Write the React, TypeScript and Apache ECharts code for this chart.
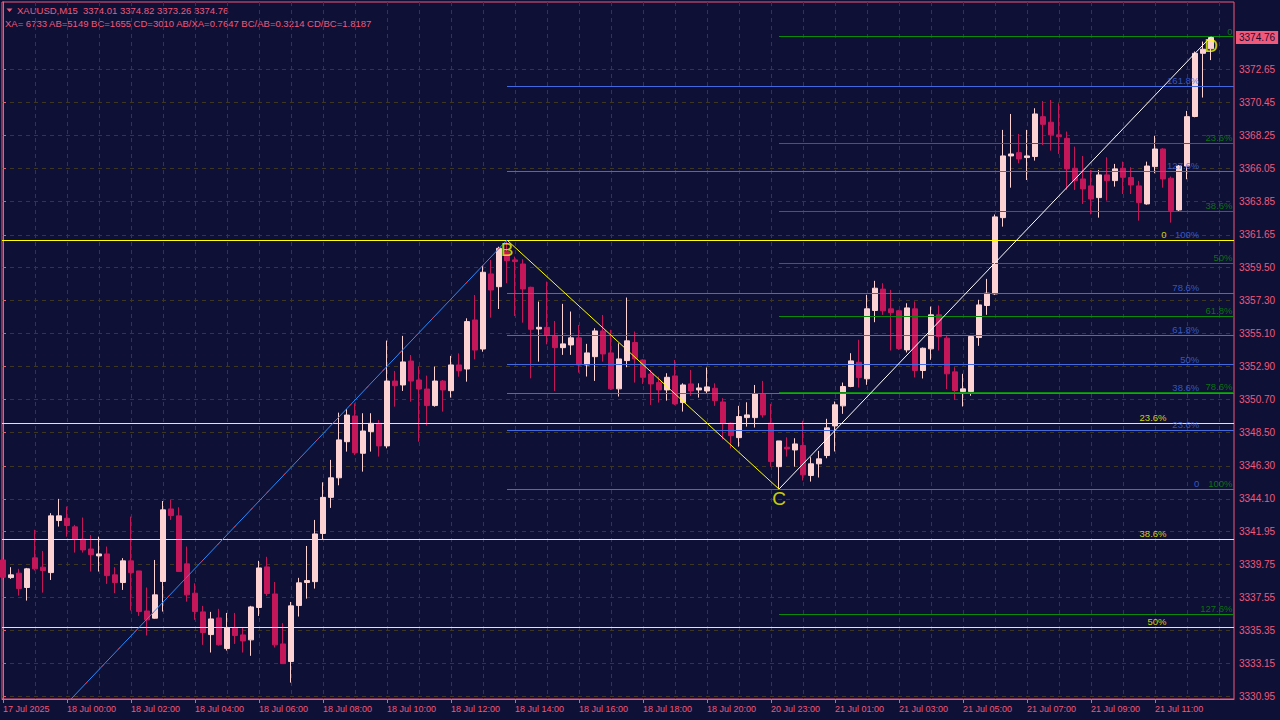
import React, { useEffect, useRef } from 'react';
import * as echarts from 'echarts';

// ---------- data ----------
const symbolName = 'XAUUSD,M15';
const statsText = 'XA= 6733 AB=5149 BC=1655 CD=3010 AB/XA=0.7647 BC/AB=0.3214 CD/BC=1.8187';

const timeLabels = [
  '17 Jul 2025', '18 Jul 00:00', '18 Jul 02:00', '18 Jul 04:00', '18 Jul 06:00',
  '18 Jul 08:00', '18 Jul 10:00', '18 Jul 12:00', '18 Jul 14:00', '18 Jul 16:00',
  '18 Jul 18:00', '18 Jul 20:00', '20 Jul 23:00', '21 Jul 01:00', '21 Jul 03:00',
  '21 Jul 05:00', '21 Jul 07:00', '21 Jul 09:00', '21 Jul 11:00',
];

const yTickValues = [
  3330.95, 3333.15, 3335.35, 3337.55, 3339.75, 3341.95, 3344.10, 3346.30, 3348.50, 3350.70,
  3352.90, 3355.10, 3357.30, 3359.50, 3361.65, 3363.85, 3366.05, 3368.25, 3370.45, 3372.65,
];

const opens = [
  3340.04, 3338.87, 3339.16, 3338.21, 3340.18, 3339.56, 3339.20, 3342.66, 3342.81, 3342.24,
  3341.42, 3340.77, 3340.31, 3340.44, 3339.05, 3338.54, 3339.98, 3339.31, 3336.65, 3336.17,
  3338.61, 3343.43, 3342.97, 3339.78, 3337.83, 3336.59, 3335.08, 3336.19, 3334.15, 3335.55,
  3335.06, 3334.73, 3336.88, 3339.58, 3337.78, 3334.46, 3333.29, 3337.01, 3338.54, 3338.60,
  3341.80, 3344.20, 3345.50, 3347.90, 3349.61, 3347.13, 3348.57, 3349.12, 3347.62, 3351.93,
  3351.67, 3353.26, 3352.00, 3351.40, 3350.30, 3351.93, 3351.29, 3353.00, 3352.73, 3355.99,
  3354.06, 3359.05, 3358.20, 3360.53, 3359.98, 3359.71, 3358.16, 3355.39, 3355.50, 3354.93,
  3354.15, 3354.33, 3354.80, 3353.00, 3353.55, 3355.26, 3353.80, 3351.41, 3353.29, 3354.49,
  3353.33, 3352.40, 3351.83, 3351.34, 3352.27, 3350.50, 3351.74, 3351.34, 3351.27, 3351.45,
  3350.54, 3349.13, 3348.17, 3349.50, 3349.50, 3351.07, 3349.13, 3346.24, 3347.53, 3347.35,
  3347.65, 3345.65, 3346.43, 3346.98, 3348.95, 3350.28, 3351.57, 3353.18, 3352.08, 3356.62,
  3358.04, 3356.73, 3356.60, 3354.00, 3356.73, 3352.63, 3354.07, 3356.33, 3354.78, 3352.54,
  3351.23, 3351.23, 3354.82, 3356.95, 3357.72, 3362.79, 3366.89, 3367.11, 3366.78, 3366.85,
  3369.50, 3369.13, 3368.29, 3368.06, 3366.07, 3365.36, 3364.90, 3364.12, 3365.63, 3365.25,
  3366.07, 3365.45, 3364.90, 3363.70, 3366.18, 3367.35, 3365.41, 3363.30, 3366.22, 3369.51,
  3373.71, 3374.01,
];
const closes = [
  3338.89, 3339.05, 3338.14, 3339.45, 3339.45, 3339.34, 3342.97, 3342.97, 3342.33, 3341.42,
  3340.71, 3340.39, 3340.44, 3339.00, 3338.54, 3339.98, 3339.20, 3336.61, 3336.06, 3337.72,
  3343.37, 3342.99, 3339.27, 3337.72, 3336.61, 3335.22, 3336.12, 3334.40, 3335.55, 3335.02,
  3334.66, 3336.92, 3339.51, 3337.81, 3334.40, 3333.15, 3336.99, 3338.52, 3338.67, 3341.77,
  3344.20, 3345.50, 3348.02, 3349.67, 3347.17, 3348.61, 3349.12, 3347.62, 3351.93, 3351.62,
  3353.20, 3351.93, 3351.40, 3350.30, 3351.93, 3351.34, 3353.00, 3352.62, 3355.88, 3353.99,
  3359.16, 3357.98, 3360.75, 3359.93, 3359.87, 3358.05, 3355.37, 3355.50, 3354.99, 3354.15,
  3354.40, 3354.80, 3353.00, 3353.80, 3355.26, 3353.73, 3351.41, 3353.40, 3354.60, 3353.40,
  3352.18, 3351.74, 3351.34, 3352.18, 3350.41, 3351.67, 3351.27, 3351.47, 3351.54, 3350.63,
  3349.13, 3348.30, 3349.57, 3349.68, 3351.07, 3349.68, 3346.58, 3347.95, 3347.42, 3347.75,
  3345.70, 3346.43, 3346.76, 3348.82, 3350.35, 3351.57, 3353.27, 3352.16, 3356.73, 3358.10,
  3356.60, 3356.48, 3354.09, 3356.79, 3352.63, 3354.11, 3356.33, 3354.89, 3352.41, 3351.30,
  3351.41, 3354.89, 3356.99, 3357.77, 3362.84, 3366.89, 3367.02, 3366.69, 3366.89, 3369.68,
  3368.99, 3368.29, 3368.17, 3366.03, 3365.25, 3364.70, 3364.03, 3365.63, 3365.25, 3366.03,
  3365.47, 3364.96, 3363.79, 3366.22, 3367.35, 3365.36, 3363.26, 3366.22, 3369.50, 3373.71,
  3373.98, 3374.76,
];
const lows = [
  3338.71, 3338.78, 3337.67, 3337.34, 3339.34, 3337.87, 3338.71, 3342.26, 3341.59, 3340.53,
  3340.53, 3339.27, 3339.27, 3338.45, 3337.83, 3338.05, 3336.68, 3336.32, 3335.02, 3336.14,
  3336.61, 3342.70, 3339.27, 3337.27, 3336.06, 3334.40, 3333.89, 3334.35, 3334.02, 3334.46,
  3333.89, 3333.67, 3336.32, 3337.65, 3334.22, 3333.15, 3331.89, 3336.28, 3337.47, 3338.14,
  3341.40, 3343.50, 3345.00, 3347.24, 3347.02, 3345.91, 3347.24, 3346.91, 3347.46, 3350.23,
  3351.27, 3350.56, 3347.90, 3348.97, 3350.23, 3349.90, 3350.83, 3352.22, 3351.89, 3353.37,
  3353.88, 3356.14, 3356.72, 3358.43, 3356.25, 3355.81, 3352.11, 3353.22, 3354.37, 3351.27,
  3353.67, 3353.67, 3352.49, 3352.23, 3351.94, 3353.22, 3351.34, 3350.90, 3352.85, 3351.83,
  3351.74, 3350.34, 3350.50, 3350.63, 3350.34, 3349.90, 3350.94, 3350.83, 3351.12, 3350.28,
  3348.06, 3347.46, 3347.57, 3348.90, 3348.84, 3349.50, 3346.24, 3344.75, 3346.91, 3346.24,
  3345.32, 3345.25, 3345.52, 3346.80, 3347.25, 3349.75, 3351.52, 3351.50, 3351.68, 3355.84,
  3356.33, 3353.96, 3354.00, 3353.83, 3352.17, 3352.10, 3353.34, 3353.96, 3351.39, 3350.68,
  3350.24, 3350.95, 3354.27, 3356.33, 3357.66, 3362.19, 3364.78, 3366.40, 3365.29, 3366.58,
  3367.62, 3367.24, 3367.02, 3364.63, 3364.63, 3363.70, 3363.01, 3362.79, 3363.92, 3364.85,
  3364.36, 3364.36, 3362.59, 3363.65, 3365.74, 3364.78, 3362.46, 3363.23, 3365.34, 3369.46,
  3370.77, 3373.26,
];
const highs = [
  3340.22, 3339.56, 3339.45, 3339.51, 3342.04, 3340.64, 3343.15, 3344.10, 3343.59, 3342.37,
  3342.86, 3341.70, 3341.59, 3340.93, 3339.56, 3340.16, 3342.92, 3339.31, 3338.21, 3340.04,
  3343.96, 3344.03, 3343.54, 3340.93, 3338.49, 3336.99, 3336.59, 3336.79, 3336.52, 3336.52,
  3335.55, 3336.99, 3339.98, 3340.25, 3338.58, 3335.84, 3337.25, 3338.85, 3340.97, 3342.70,
  3345.20, 3346.69, 3349.83, 3350.07, 3350.45, 3349.79, 3349.79, 3349.34, 3354.62, 3352.60,
  3354.93, 3353.66, 3352.89, 3352.29, 3352.89, 3352.00, 3353.60, 3353.77, 3356.10, 3357.65,
  3359.60, 3359.98, 3360.86, 3361.30, 3360.20, 3360.02, 3358.20, 3357.21, 3358.54, 3355.92,
  3357.06, 3356.55, 3355.66, 3354.40, 3355.44, 3356.32, 3355.33, 3354.44, 3357.48, 3355.22,
  3353.38, 3352.67, 3352.23, 3352.45, 3353.33, 3351.78, 3352.67, 3351.78, 3352.83, 3351.78,
  3350.79, 3349.17, 3350.28, 3350.52, 3351.67, 3351.94, 3350.41, 3347.95, 3348.19, 3348.13,
  3349.29, 3346.87, 3347.29, 3349.42, 3350.57, 3351.83, 3353.78, 3354.67, 3357.66, 3358.59,
  3358.43, 3357.99, 3356.66, 3357.10, 3357.22, 3354.16, 3356.88, 3356.95, 3354.93, 3352.85,
  3352.41, 3354.89, 3357.33, 3358.72, 3363.00, 3368.62, 3369.68, 3368.35, 3368.62, 3370.06,
  3370.54, 3370.61, 3370.39, 3368.51, 3367.51, 3366.89, 3365.96, 3365.96, 3366.80, 3366.36,
  3366.51, 3366.14, 3365.23, 3366.51, 3368.22, 3367.40, 3365.52, 3366.29, 3369.88, 3373.83,
  3374.49, 3374.82,
];

// Harmonic pattern points A, B, C, D (bar index, price)
const patternNames = ['A', 'B', 'C', 'D'];
const patternBars = [-29, 63, 97, 151];
const patternPrices = [3309.81, 3361.3, 3344.75, 3374.82];

// Fibonacci ratios (%) of the three drawn fib objects
const abFibRatios = [0, 23.6, 38.6, 50];
const bcFibRatios = [0, 23.6, 38.6, 50, 61.8, 78.6, 100, 127.6, 161.8];
const cdFibRatios = [0, 23.6, 38.6, 50, 61.8, 78.6, 100, 127.6];

// ---------- style ----------
const BG = '#0e1036';
const AXIS = '#f2587a';
const GRID = '#3e3724';
const BULL = '#fcd2d2';
const BEAR = '#c4175a';
const YELLOW = '#ffff00';
const BLUE = '#4169e1';
const GREEN = '#0a8a0a';
const FONT = '"Liberation Sans", Arial, sans-serif';

const X_MIN = -0.125;
const X_MAX = 153.875;
const Y_MIN = 3330.8;
const Y_MAX = 3377.12;

const pctLabel = (r: number) => (r === 0 ? '0' : `${r}%`);

export default function App() {
  const ref = useRef<HTMLDivElement>(null);

  useEffect(() => {
    if (!ref.current) return;
    const chart = echarts.init(ref.current, undefined, { renderer: 'svg' });

    const [A, B, C, D] = patternPrices;
    const [, bB, bC] = patternBars;

    const abLevels = abFibRatios.map((r) => B - (r / 100) * (B - A));
    const bcLevels = bcFibRatios.map((r) => C + (r / 100) * (B - C));
    const cdLevels = cdFibRatios.map((r) => D - (r / 100) * (D - C));

    const seg = (start: number, lvl: number, color: string) => [
      { coord: [start, lvl], lineStyle: { color, width: 1, type: 'solid' } },
      { coord: [X_MAX, lvl] },
    ];

    const candleData = opens.map((o, i) => [i, o, closes[i], lows[i], highs[i]]);
    const labelBars = timeLabels.map((_, i) => i * 8);
    const gridBars: number[] = [];
    for (let i = 0; i <= 152; i += 4) gridBars.push(i);

    const last = opens.length - 1;
    const headerText = `${symbolName}  ${opens[last].toFixed(2)} ${highs[last].toFixed(2)} ${lows[last].toFixed(2)} ${closes[last].toFixed(2)}`;

    const fibLabels = (levels: number[], ratios: number[], anchor: number, color: string) => ({
      type: 'scatter',
      xAxisIndex: 0,
      yAxisIndex: 0,
      symbolSize: 1,
      silent: true,
      z: 6,
      itemStyle: { color: 'transparent' },
      data: levels.map((lv, i) => ({ value: [anchor, lv], name: pctLabel(ratios[i]) })),
      label: {
        show: true,
        formatter: '{b}',
        position: [0, 0],
        align: 'right',
        verticalAlign: 'bottom',
        color,
        fontSize: 9.5,
        fontFamily: FONT,
        offset: [0, 0],
      },
    });

    const legLine = (i: number, color: string, type: any = 'solid') => ({
      type: 'line',
      xAxisIndex: 0,
      yAxisIndex: 0,
      symbol: 'none',
      silent: true,
      z: 5,
      data: [
        [patternBars[i], patternPrices[i]],
        [patternBars[i + 1], patternPrices[i + 1]],
      ],
      lineStyle: { color, width: 1, type },
    });

    const option: any = {
      animation: false,
      backgroundColor: BG,
      textStyle: { fontFamily: FONT },
      grid: {
        left: 2,
        right: 46,
        top: 2,
        bottom: 21,
        show: true,
        borderColor: AXIS,
        borderWidth: 1,
        backgroundColor: 'transparent',
      },
      xAxis: [
        {
          type: 'value',
          min: X_MIN,
          max: X_MAX,
          position: 'bottom',
          axisLine: { show: true, onZero: false, lineStyle: { color: AXIS } },
          axisTick: { show: true, length: 4, customValues: labelBars, lineStyle: { color: AXIS } },
          axisLabel: {
            customValues: labelBars,
            formatter: (v: number) => timeLabels[Math.round(v / 8)] ?? '',
            color: AXIS,
            fontSize: 9,
            fontFamily: FONT,
            align: 'left',
            margin: 5,
          },
          splitLine: { show: false },
        },
        {
          type: 'value',
          min: X_MIN,
          max: X_MAX,
          position: 'top',
          axisLine: { show: false },
          axisTick: { show: false, customValues: gridBars },
          axisLabel: { show: false, customValues: gridBars },
          splitLine: { show: true, lineStyle: { color: GRID, type: [4, 4], width: 1 } },
        },
      ],
      yAxis: {
        type: 'value',
        position: 'right',
        min: Y_MIN,
        max: Y_MAX,
        axisLine: { show: true, lineStyle: { color: AXIS } },
        axisTick: { show: true, length: 3, customValues: yTickValues, lineStyle: { color: AXIS } },
        axisLabel: {
          customValues: yTickValues,
          formatter: (v: number) => v.toFixed(2),
          color: AXIS,
          fontSize: 10,
          fontFamily: FONT,
          margin: 5,
        },
        splitLine: { show: true, lineStyle: { color: GRID, type: [4, 4], width: 1 } },
      },
      graphic: [
        {
          type: 'polygon',
          shape: { points: [[6.5, 8.5], [12.5, 8.5], [9.5, 12]] },
          style: { fill: AXIS },
          silent: true,
        },
        {
          type: 'text',
          x: 17,
          y: 10.5,
          style: { text: headerText, fill: AXIS, font: `9.5px ${FONT}`, verticalAlign: 'middle' },
          silent: true,
        },
        {
          type: 'text',
          x: 5,
          y: 23,
          style: { text: statsText, fill: AXIS, font: `9.5px ${FONT}`, verticalAlign: 'middle' },
          silent: true,
        },
      ],
      series: [
        {
          type: 'candlestick',
          xAxisIndex: 0,
          yAxisIndex: 0,
          data: candleData,
          encode: { x: 0, y: [1, 2, 3, 4] },
          barWidth: 5,
          itemStyle: {
            color: BULL,
            color0: BEAR,
            borderColor: BULL,
            borderColor0: BEAR,
            borderWidth: 1,
          },
          markLine: {
            silent: true,
            symbol: ['none', 'none'],
            label: { show: false },
            data: [
              ...cdLevels.map((lv) => seg(bC, lv, GREEN)),
              ...bcLevels.map((lv) => seg(bB, lv, BLUE)),
              ...abLevels.map((lv) => seg(X_MIN, lv, YELLOW)),
            ],
          },
        },
        {
          type: 'line',
          xAxisIndex: 0,
          yAxisIndex: 0,
          data: [],
          silent: true,
          z: 8,
          markLine: {
            silent: true,
            symbol: ['none', 'none'],
            data: [
              {
                yAxis: closes[last],
                lineStyle: { color: 'rgba(0,0,0,0)', width: 1 },
                label: {
                  show: true,
                  position: 'end',
                  distance: 2,
                  formatter: closes[last].toFixed(2),
                  backgroundColor: AXIS,
                  color: '#1a0f30',
                  padding: [2, 3, 1, 3],
                  fontSize: 10,
                  fontFamily: FONT,
                },
              },
            ],
          },
        },
        legLine(0, '#2a8cff'),
        legLine(0, '#ff2a2a', [3, 21]),
        legLine(1, YELLOW),
        legLine(2, '#ffffff'),
        fibLabels(abLevels, abFibRatios, 145.5, YELLOW),
        fibLabels(bcLevels, bcFibRatios, 149.6, BLUE),
        fibLabels(cdLevels, cdFibRatios, 153.75, GREEN),
        {
          type: 'scatter',
          xAxisIndex: 0,
          yAxisIndex: 0,
          symbolSize: 1,
          silent: true,
          z: 7,
          itemStyle: { color: 'transparent' },
          data: patternNames.slice(1).map((n, i) => ({
            value: [patternBars[i + 1], patternPrices[i + 1]],
            name: n,
          })),
          label: {
            show: true,
            formatter: '{b}',
            position: 'bottom',
            distance: -1,
            color: YELLOW,
            fontSize: 19,
            fontFamily: FONT,
          },
        },
      ],
    };

    chart.setOption(option);
    return () => chart.dispose();
  }, []);

  return (
    <div
      ref={ref}
      style={{ position: 'fixed', left: 0, top: 0, width: 1280, height: 720, background: BG }}
    />
  );
}
